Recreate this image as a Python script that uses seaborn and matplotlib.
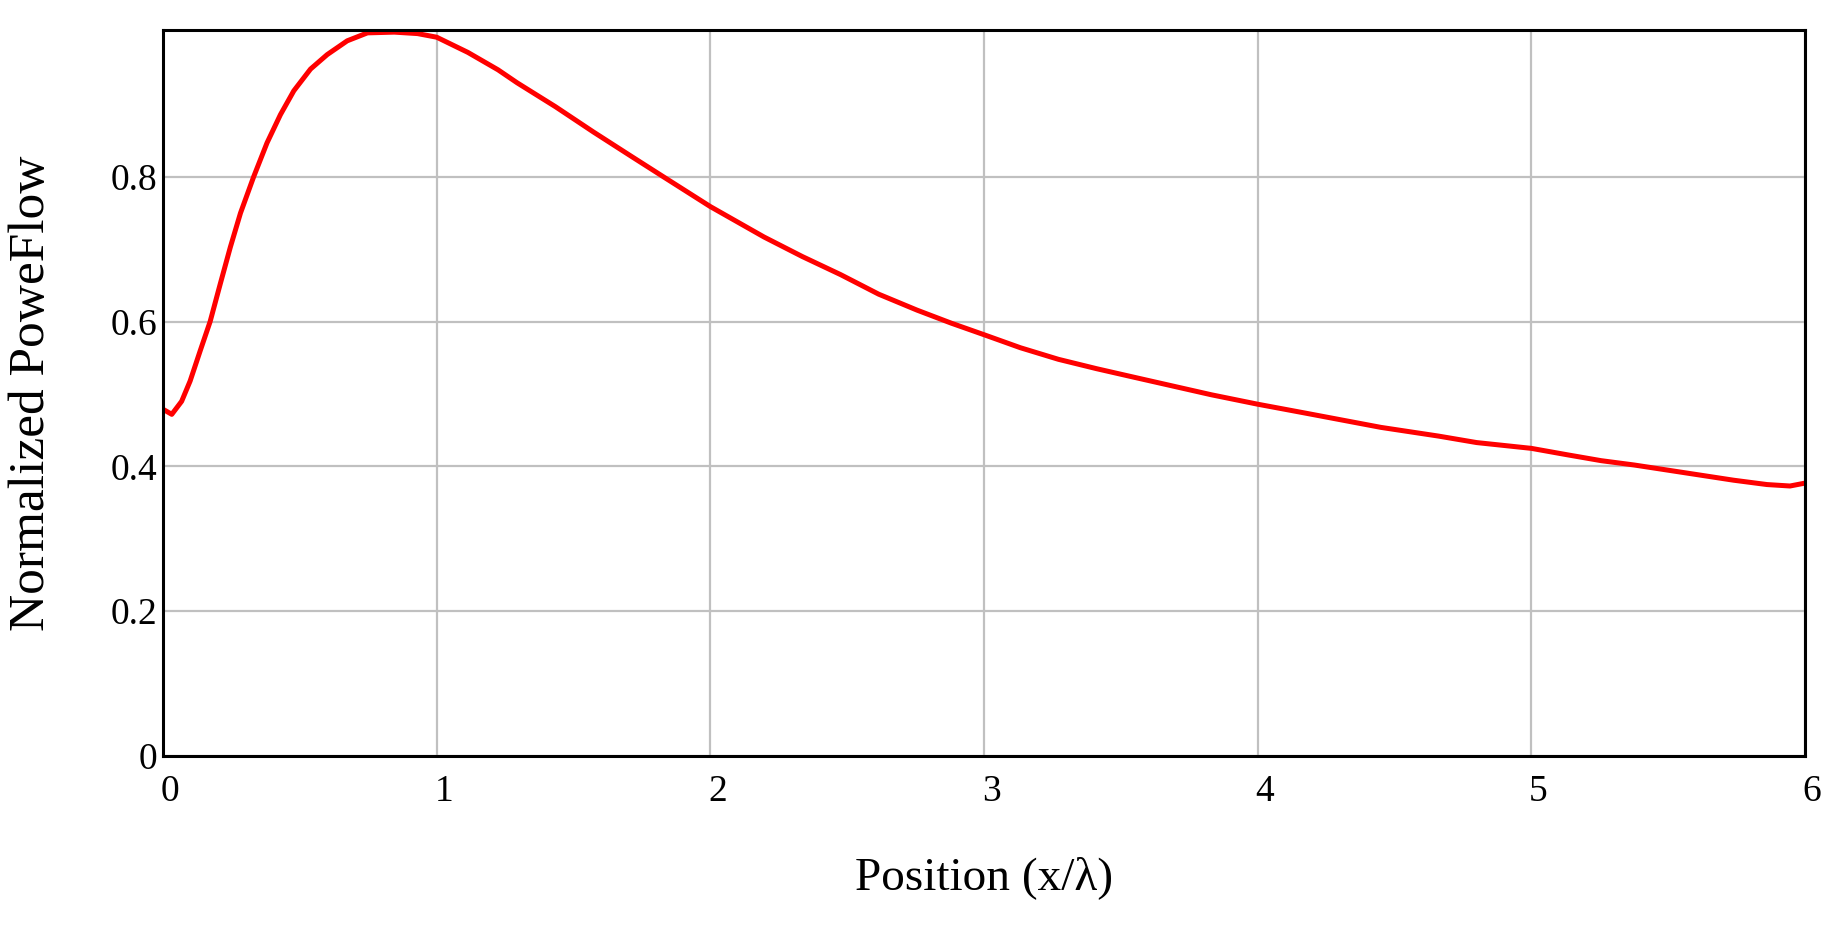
import matplotlib
matplotlib.use('Agg')
import matplotlib.pyplot as plt
import matplotlib.transforms as mtransforms
import seaborn as sns

# ----------------------------------------------------------------------
# Data
# ----------------------------------------------------------------------
position = [0.0, 0.032, 0.068, 0.099, 0.136, 0.172, 0.209, 0.246, 0.283, 0.331,
            0.380, 0.429, 0.478, 0.539, 0.600, 0.673, 0.747, 0.845, 0.930, 1.0,
            1.114, 1.224, 1.294, 1.434, 1.573, 1.713, 1.825, 2.0, 2.196, 2.336,
            2.476, 2.615, 2.755, 2.88, 3.0, 3.133, 3.272, 3.412, 3.551, 3.691, 3.831,
            4.0, 4.17, 4.31, 4.45, 4.66, 4.80, 5.0, 5.133, 5.255, 5.376,
            5.497, 5.618, 5.739, 5.861, 5.945, 6.0]
power_flow = [0.479, 0.472, 0.490, 0.518, 0.560, 0.600, 0.652, 0.703, 0.750, 0.800,
              0.847, 0.886, 0.919, 0.949, 0.969, 0.988, 0.999, 1.0, 0.998, 0.993,
              0.972, 0.948, 0.930, 0.897, 0.862, 0.828, 0.801, 0.759, 0.717, 0.690,
              0.665, 0.638, 0.616, 0.598, 0.582, 0.564, 0.548, 0.535, 0.523, 0.511, 0.499,
              0.486, 0.474, 0.464, 0.454, 0.442, 0.433, 0.425, 0.416, 0.408, 0.402,
              0.395, 0.388, 0.381, 0.375, 0.373, 0.377]

x_ticks = [0, 1, 2, 3, 4, 5, 6]
y_ticks = [0, 0.2, 0.4, 0.6, 0.8]
y_tick_labels = ['0', '0.2', '0.4', '0.6', '0.8']

# ----------------------------------------------------------------------
# Style
# ----------------------------------------------------------------------
sns.set_style('whitegrid')
plt.rcParams['font.family'] = ['Liberation Serif', 'DejaVu Serif']
plt.rcParams['text.color'] = 'black'
plt.rcParams['axes.labelcolor'] = 'black'

fig = plt.figure(figsize=(18.4, 9.25), dpi=100)
ax = fig.add_axes([0.0886, 0.1827, 0.8924, 0.7849])

sns.lineplot(x=position, y=power_flow, color='#ff0000', linewidth=3.6, ax=ax)

ax.set_xlim(0, 6)
ax.set_ylim(0, 1.003)
ax.set_xticks(x_ticks)
ax.set_yticks(y_ticks)
ax.set_yticklabels(y_tick_labels)
ax.grid(True, color='#c0c0c0', linewidth=1.6)
for s in ax.spines.values():
    s.set_color('black')
    s.set_linewidth(2.2)

ax.tick_params(axis='both', length=0, labelsize=27, colors='black')
ax.tick_params(axis='x', pad=13)
ax.tick_params(axis='y', pad=4)

# Mathcad draws x tick labels a touch right of the grid lines
offset = mtransforms.ScaledTranslation(7 / 100, 0, fig.dpi_scale_trans)
for lbl in ax.get_xticklabels():
    lbl.set_transform(lbl.get_transform() + offset)

ax.set_xlabel('Position (x/λ)', fontsize=34, labelpad=34, color='black')
ax.set_ylabel('Normalized PoweFlow', fontsize=37, labelpad=40, color='black')

fig.savefig('out.png', dpi=100, facecolor='white')
plt.close(fig)
